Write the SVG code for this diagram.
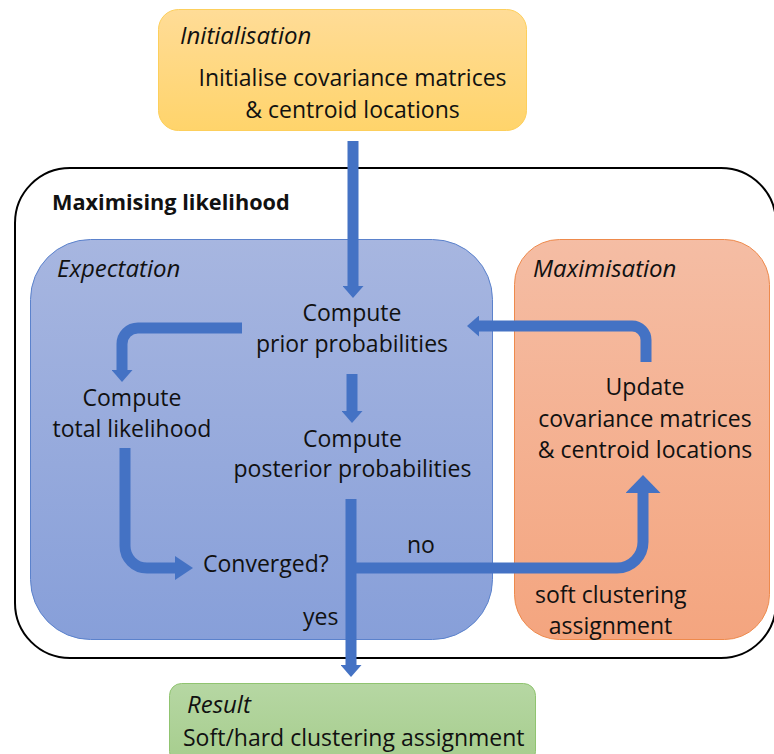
<svg xmlns="http://www.w3.org/2000/svg" width="774" height="754" viewBox="0 0 774 754">
  <defs>
    <linearGradient id="gInit" x1="0" y1="0" x2="0" y2="1">
      <stop offset="0" stop-color="#ffdc97"/>
      <stop offset="1" stop-color="#ffd46b"/>
    </linearGradient>
    <linearGradient id="gExp" x1="0" y1="0" x2="0" y2="1">
      <stop offset="0" stop-color="#a7b6e0"/>
      <stop offset="1" stop-color="#879fd9"/>
    </linearGradient>
    <linearGradient id="gMax" x1="0" y1="0" x2="0" y2="1">
      <stop offset="0" stop-color="#f5bda4"/>
      <stop offset="1" stop-color="#f4a57f"/>
    </linearGradient>
    <linearGradient id="gRes" x1="0" y1="0" x2="0" y2="1">
      <stop offset="0" stop-color="#b6d7a3"/>
      <stop offset="1" stop-color="#a6cd8d"/>
    </linearGradient>
    <marker id="headS" markerUnits="userSpaceOnUse" viewBox="0 0 12 21" markerWidth="12" markerHeight="21" refX="0" refY="10.5" orient="auto">
      <path d="M0,0 L12,10.5 L0,21 Z" fill="#4472c4"/>
    </marker>
    <marker id="headM" markerUnits="userSpaceOnUse" viewBox="0 0 18 24" markerWidth="18" markerHeight="24" refX="0" refY="12" orient="auto">
      <path d="M0,0 L18,12 L0,24 Z" fill="#4472c4"/>
    </marker>
    <marker id="headL" markerUnits="userSpaceOnUse" viewBox="0 0 18 35" markerWidth="18" markerHeight="35" refX="0" refY="17.5" orient="auto">
      <path d="M0,0 L18,17.5 L0,35 Z" fill="#4472c4"/>
    </marker>
  </defs>
  <style>
    text { font-family: "Open Sans", "Noto Sans", sans-serif; font-size: 23px; fill: #111; }
    .c { text-anchor: middle; }
    .it { font-style: italic; font-size: 24px; }
    .b { font-weight: bold; font-size: 21.7px; }
    .flow { fill: none; stroke: #4472c4; stroke-width: 11; }
  </style>

  <rect width="774" height="754" fill="#ffffff"/>

  <!-- outer loop frame -->
  <g id="maximising-likelihood">
    <rect x="15" y="168" width="761" height="490" rx="55" fill="none" stroke="#000" stroke-width="2"/>
    <text class="b" x="52" y="210">Maximising likelihood</text>
  </g>

  <g id="initialisation">
    <rect x="158.5" y="9.5" width="368" height="121" rx="20" fill="url(#gInit)" stroke="#fdcf5c" stroke-width="1"/>
    <text class="it" x="180" y="44">Initialisation</text>
    <text class="c" x="352.5" y="86">Initialise covariance matrices</text>
    <text class="c" x="352.5" y="118">&amp; centroid locations</text>
  </g>

  <g id="expectation">
    <rect x="30.5" y="239.5" width="462" height="400" rx="60" fill="url(#gExp)" stroke="#5b82cc" stroke-width="1"/>
    <text class="it" x="57" y="277">Expectation</text>
  </g>

  <g id="maximisation">
    <rect x="514.5" y="239.5" width="255" height="400" rx="45" fill="url(#gMax)" stroke="#ee8a4c" stroke-width="1"/>
    <text class="it" x="533" y="277">Maximisation</text>
  </g>

  <g id="result">
    <rect x="169.5" y="683.5" width="366" height="80" rx="12" fill="url(#gRes)" stroke="#90c470" stroke-width="1"/>
    <text class="it" x="187" y="713">Result</text>
    <text x="183" y="746">Soft/hard clustering assignment</text>
  </g>

  <g id="prior">
    <text class="c" x="352" y="321">Compute</text>
    <text class="c" x="352" y="352">prior probabilities</text>
  </g>

  <g id="total-likelihood">
    <text class="c" x="132" y="406">Compute</text>
    <text class="c" x="132" y="437">total likelihood</text>
  </g>

  <g id="posterior">
    <text class="c" x="352.5" y="447">Compute</text>
    <text class="c" x="352.5" y="477">posterior probabilities</text>
  </g>

  <g id="converged">
    <text x="203" y="572">Converged?</text>
  </g>

  <g id="update">
    <text class="c" x="645" y="395">Update</text>
    <text class="c" x="645" y="427">covariance matrices</text>
    <text class="c" x="645" y="458">&amp; centroid locations</text>
    <text x="535" y="603">soft clustering</text>
    <text class="c" x="610.5" y="634">assignment</text>
  </g>

  <g id="connectors">
    <!-- initialisation to prior probabilities -->
    <path class="flow" d="M353,141 V286" stroke-width="10" marker-end="url(#headS)"/>
    <!-- prior to total likelihood -->
    <path class="flow" d="M242,328 H138 A16,16 0 0 0 122,344 V370" marker-end="url(#headS)"/>
    <!-- prior to posterior -->
    <path class="flow" d="M352,374 V411" stroke-width="10" marker-end="url(#headS)"/>
    <!-- total likelihood to convergence test -->
    <path class="flow" d="M125,448 V546 A22,22 0 0 0 147,568 H175" stroke-width="13" marker-end="url(#headM)"/>
    <!-- posterior to result (yes) -->
    <path class="flow" d="M351,499 V665" stroke-width="10" marker-end="url(#headS)"/>
    <!-- not converged: to maximisation -->
    <path class="flow" d="M351,568 H617 A26,26 0 0 0 643,542 V493" marker-end="url(#headL)"/>
    <!-- maximisation back to prior -->
    <path class="flow" d="M646,362 V340 A14,14 0 0 0 632,326 H479" stroke-width="12" marker-end="url(#headS)"/>
    <text x="407" y="553">no</text>
    <text x="303" y="625">yes</text>
  </g>
</svg>
